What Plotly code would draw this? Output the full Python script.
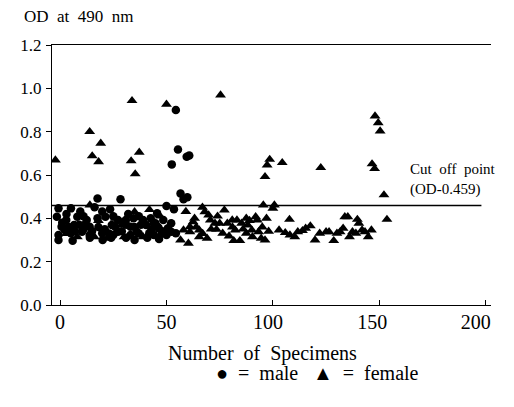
import plotly.graph_objects as go

# ---- data ----
male_x = [17.6, 28.4, 56.6, 58.0, 59.8, 54.4, 55.4, 59.5, 60.7, 52.5,
          -0.75, 5.1, 16.2, 23.5, 19.8, 9.5, 50.0, 53.5, 45.6,
          -1.5, 2.9, 8.1, 12.5, 17.6, 21.3, 27.2, 30.9, 34.5, 39.0, 42.6, 44.8,
          0.7, 6.6, 13.9, 24.3, 33.1, 40.4,
          -0.75, 2.2, 5.1, 10.3, 13.9, 19.8, 25.0, 27.2, 33.1, 36.0, 41.9, 44.1, -0.75, 5.9,
          44.0, 46.3, 48.5, 47.8, 50.7, 50.0, 46.5, 52.2, 52.2, 54.4,
          1.0, 4.0, 7.0, 9.0, 11.0, 15.0, 18.0, 21.0, 23.0, 26.0, 29.0, 31.0, 35.0, 37.0, 38.0, 43.0,
          46.0, 3.0, 11.0, 25.0, 32.0, 37.0, 14.0, 20.0, 24.0, 31.0, 35.0, 41.0, 48.0]
male_y = [0.492, 0.488, 0.515, 0.488, 0.497, 0.900, 0.718, 0.684, 0.690, 0.649,
          0.446, 0.446, 0.451, 0.442, 0.431, 0.431, 0.457, 0.442, 0.423,
          0.407, 0.392, 0.407, 0.392, 0.400, 0.407, 0.392, 0.392, 0.400, 0.392, 0.400, 0.377,
          0.361, 0.369, 0.361, 0.369, 0.361, 0.369,
          0.323, 0.346, 0.331, 0.338, 0.323, 0.331, 0.323, 0.338, 0.323, 0.338, 0.331, 0.323, 0.300, 0.297,
          0.377, 0.354, 0.392, 0.331, 0.354, 0.323, 0.305, 0.377, 0.338, 0.331,
          0.380, 0.360, 0.340, 0.370, 0.350, 0.340, 0.360, 0.350, 0.330, 0.360, 0.340, 0.370, 0.360, 0.330, 0.370, 0.350,
          0.360, 0.420, 0.410, 0.410, 0.420, 0.410, 0.310, 0.300, 0.310, 0.310, 0.300, 0.310, 0.340]

female_x = [-2.2, 13.9, 19.1, 15.1, 18.1, 33.8, 37.2, 33.4, 35.3, 50.0, 75.4, 98.5, 97.3, 96.3, 104.4, 122.5,
            148.0, 149.5, 150.4, 146.6, 147.8, 152.2, 153.6,
            14.0, 8.1, 16.1, 22.1, 30.1, 39.0, 11.0, 29.0, 3.0, 18.0, 26.0, 35.0, 42.0, 47.0,
            59.1, 66.9, 77.2, 62.5, 63.2, 69.8, 70.6, 72.8, 75.0, 73.5, 78.6, 80.9, 83.1, 82.3, 85.3, 87.5,
            88.2, 90.1, 91.9, 92.6, 58.0, 61.0, 65.4, 56.6, 60.3, 79.4, 81.6, 84.5, 94.5, 95.5, 65.4, 69.1,
            61.0, 76.4, 87.5, 90.4, 93.3, 96.3, 97.0, 64.0, 67.0, 71.0, 74.0, 86.0, 89.0, 95.0, 98.0, 68.0, 81.0,
            100.7, 100.0, 107.8, 102.9, 105.8, 108.0, 110.3, 111.7, 113.9, 115.4, 117.6, 119.8, 122.0, 125.0,
            126.4, 128.6, 130.1, 131.6, 133.0, 133.8, 135.2, 136.0, 137.4, 139.0, 139.7, 140.4, 141.9, 143.3,
            144.8, 146.3]
female_y = [0.669, 0.800, 0.746, 0.688, 0.661, 0.943, 0.705, 0.665, 0.605, 0.926, 0.969, 0.672, 0.646, 0.592, 0.657, 0.634,
            0.872, 0.841, 0.803, 0.651, 0.629, 0.508, 0.395,
            0.461, 0.315, 0.315, 0.308, 0.315, 0.315, 0.372, 0.370, 0.330, 0.390, 0.400, 0.430, 0.440, 0.410,
            0.431, 0.451, 0.438, 0.384, 0.400, 0.415, 0.392, 0.377, 0.377, 0.349, 0.377, 0.392, 0.392, 0.346, 0.377, 0.400,
            0.369, 0.346, 0.407, 0.392, 0.346, 0.338, 0.346, 0.300, 0.285, 0.318, 0.297, 0.297, 0.308, 0.461, 0.315, 0.308,
            0.361, 0.331, 0.331, 0.315, 0.338, 0.300, 0.400, 0.360, 0.330, 0.350, 0.410, 0.350, 0.390, 0.360, 0.340, 0.430, 0.360,
            0.461, 0.446, 0.395, 0.346, 0.334, 0.323, 0.315, 0.338, 0.343, 0.354, 0.365, 0.300, 0.331, 0.338,
            0.338, 0.297, 0.331, 0.338, 0.354, 0.407, 0.407, 0.315, 0.338, 0.331, 0.395, 0.377, 0.346, 0.338,
            0.315, 0.346]

cutoff = 0.459
cutoff_x = [-3.8, 198]
x_ticks = [0, 50, 100, 150, 200]
x_tick_text = ["0", "50", "100\u2007", "150\u2007\u2009", "200\u2007\u2007"]
y_ticks = [0.0, 0.2, 0.4, 0.6, 0.8, 1.0, 1.2]

FONT = "Liberation Serif, Times New Roman, Tinos, DejaVu Serif, serif"

fig = go.Figure()
fig.add_trace(go.Scatter(x=cutoff_x, y=[cutoff, cutoff], mode="lines",
                         line=dict(color="black", width=1.5), showlegend=False, hoverinfo="skip"))
fig.add_trace(go.Scatter(x=male_x, y=male_y, mode="markers", name="male",
                         marker=dict(symbol="circle", size=8.5, color="black"), showlegend=False))
fig.add_trace(go.Scatter(x=female_x, y=female_y, mode="markers", name="female",
                         marker=dict(symbol="triangle-up", size=9.5, color="black"), showlegend=False))

# The page body has an 8 px default margin, so the plot is placed 8 px up/left.
fig.update_layout(
    width=514, height=407,
    margin=dict(l=35, r=12, t=37, b=110),
    paper_bgcolor="white", plot_bgcolor="white",
    font=dict(family=FONT, color="black", size=17),
    showlegend=False,
    xaxis=dict(range=[-3.8, 202.5], tickvals=x_ticks, ticktext=x_tick_text, ticks="inside", ticklen=5,
               tickwidth=1, tickcolor="black", showline=True, linecolor="black", linewidth=1.3,
               mirror=True, showgrid=False, zeroline=False, tickfont=dict(family=FONT, size=20),
               ticklabelstandoff=-1, ticklabeloverflow="allow"),
    yaxis=dict(range=[0, 1.2], tickvals=y_ticks, tickformat=".1f", ticks="outside", ticklen=5,
               tickwidth=1, tickcolor="black", showline=True, linecolor="black", linewidth=1.3,
               showgrid=False, zeroline=False, tickfont=dict(family=FONT, size=17),
               ticklabelstandoff=1, ticklabeloverflow="allow"),
)

fig.add_annotation(text="OD\u00a0\u00a0at\u00a0\u00a0490\u00a0\u00a0nm", xref="paper", yref="paper",
                   x=-0.069, y=1.108, xanchor="left", yanchor="middle", showarrow=False,
                   font=dict(family=FONT, size=17))
fig.add_annotation(text="Number\u00a0\u00a0of\u00a0\u00a0Specimens", xref="paper", yref="paper",
                   x=0.48, y=-0.185, xanchor="center", yanchor="middle", showarrow=False,
                   font=dict(family=FONT, size=20))
fig.add_annotation(text="Cut\u00a0\u00a0off\u00a0\u00a0point<br>(OD-0.459)", xref="paper", yref="paper",
                   x=0.81, y=0.481, xanchor="left", yanchor="middle", align="left", showarrow=False,
                   font=dict(family=FONT, size=15))
fig.add_annotation(text="\u25cf\u00a0\u00a0=\u00a0\u00a0male", xref="paper", yref="paper",
                   x=0.37, y=-0.262, xanchor="left", yanchor="middle", showarrow=False,
                   font=dict(family=FONT, size=20))
fig.add_annotation(text="\u25b2\u00a0\u00a0=\u00a0\u00a0female", xref="paper", yref="paper",
                   x=0.59, y=-0.262, xanchor="left", yanchor="middle", showarrow=False,
                   font=dict(family=FONT, size=20))

fig.write_html("out.html")
